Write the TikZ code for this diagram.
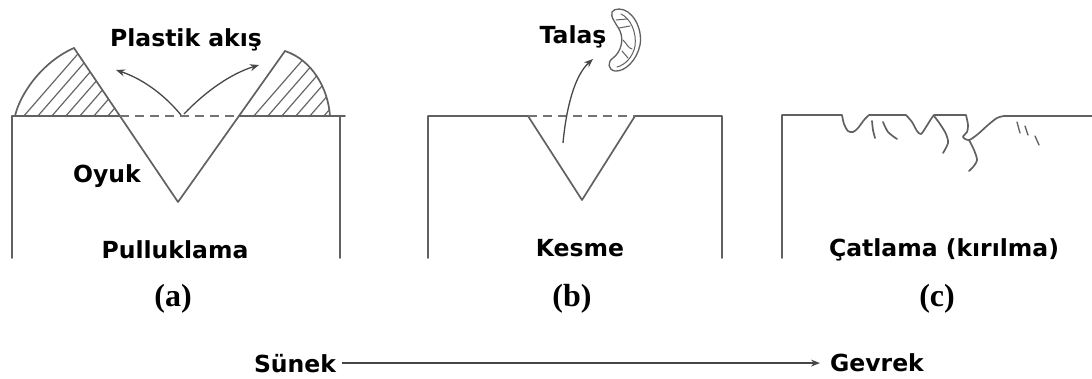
\documentclass[tikz,border=0pt]{standalone}
\usepackage{fontspec}
\setmainfont{DejaVu Sans}
\newfontfamily\tagfont{Liberation Serif}
\usetikzlibrary{arrows.meta}
\begin{document}
\begin{tikzpicture}[x=1pt,y=-1pt,
  ink/.style={draw=black!62,line width=1.7pt,line join=round,line cap=round},
  hatchline/.style={draw=black!60,line width=1.2pt},
  guide/.style={draw=black!55,line width=1.5pt,dash pattern=on 9pt off 6pt},
  flow/.style={draw=black!72,line width=1.3pt,-{Stealth[length=9pt,width=7pt]}},
  lbl/.style={font=\bfseries\fontsize{23.5}{28}\selectfont,inner sep=0pt,anchor=base},
  tag/.style={font=\tagfont\bfseries\fontsize{32}{36}\selectfont,inner sep=0pt,anchor=base}]
\useasboundingbox (0,0) rectangle (1092,378);

% ---------- (a) ploughing ----------
% hatched pile-ups on both sides of the groove
\begin{scope}
  \clip (15,116) .. controls (20,94) and (42,62) .. (74,48) -- (120,117) -- cycle;
  \foreach \s in {23,37,...,115} \draw[hatchline] (\s,117) -- ++(80,-92);
\end{scope}
\begin{scope}
  \clip (239,117) -- (285,51) .. controls (312,60) and (328,88) .. (330,117) -- cycle;
  \foreach \s in {253,267,...,330} \draw[hatchline] (\s,117) -- ++(80,-92);
\end{scope}
\draw[ink] (15,116) .. controls (20,94) and (42,62) .. (74,48);
\draw[ink] (285,51) .. controls (312,60) and (328,88) .. (330,116);
% groove walls, running up to the pile-up peaks
\draw[ink] (74,48) -- (178,202) -- (285,51);
% block outline
\draw[ink] (12,258) -- (12,116) -- (120,116);
\draw[ink] (239,116) -- (345,116);
\draw[ink] (340,116) -- (340,258);
\draw[guide] (120,116) -- (239,116);
% flow arrows
\coordinate (aL) at (181,115);
\coordinate (aR) at (184,114);
\coordinate (tipL) at (116,70);
\coordinate (tipR) at (259,65);
\draw[flow] (aL) .. controls (162,92) and (140,78) .. (tipL);
\draw[flow] (aR) .. controls (205,92) and (230,74) .. (tipR);
\node[lbl] (plastik) at (186,46) {Plastik akış};
\node[lbl] (oyuk) at (107,182) {Oyuk};
\node[lbl] (pull) at (175,258) {Pulluklama};
\node[tag] (taga) at (173,306) {(a)};

% ---------- (b) cutting ----------
\draw[ink] (428,258) -- (428,116) -- (528,116) -- (582,200) -- (635,116) -- (722,116) -- (722,258);
\draw[guide] (528,116) -- (635,116);
\coordinate (chipfoot) at (563,143);
\coordinate (chiptip) at (593,59);
\draw[flow] (chipfoot) .. controls (566,110) and (574,76) .. (chiptip);
% curled chip
\draw[ink,line width=1.3pt] (619,9) .. controls (632,9) and (643,28) .. (640,45)
  .. controls (637,60) and (625,72) .. (615,71)
  .. controls (608,70) and (607,62) .. (613,58)
  .. controls (621,52) and (624,40) .. (620,31)
  .. controls (616,23) and (610,17) .. (612,12)
  .. controls (613,10) and (616,9) .. (619,9) -- cycle;
\draw[ink,line width=1.0pt] (621,14) .. controls (630,18) and (637,32) .. (635,46)
  .. controls (633,57) and (625,65) .. (617,67);
\draw[ink,line width=1.0pt] (616,20) -- (627,19);
\draw[ink,line width=1.0pt] (619,28) -- (630,26);
\draw[ink,line width=1.0pt] (623,40) .. controls (627,44) and (628,48) .. (632,49);
\draw[ink,line width=1.0pt] (622,51) -- (628,58);
\node[lbl] (talas) at (573,43) {Talaş};
\node[lbl] (kesme) at (580,256) {Kesme};
\node[tag] (tagb) at (572,306) {(b)};

% ---------- (c) cracking ----------
\draw[ink] (782,258) -- (782,115) -- (842,115)
  plot[smooth,tension=0.5] coordinates {(842,115) (844,124) (848,131) (853,132) (858,128) (864,120) (869,115)}
  -- (906,115)
  plot[smooth,tension=0.5] coordinates {(906,115) (912,122) (917,131) (921,134) (926,127) (931,119) (934,115)}
  -- (966,115)
  plot[smooth,tension=0.5] coordinates {(966,115) (968,125) (967,132) (963,137) (969,140) (978,134) (988,125) (997,118) (1004,116)}
  -- (1092,116);
\draw[ink] plot[smooth,tension=0.5] coordinates {(872,121) (873,130) (875,138)};
\draw[ink] plot[smooth,tension=0.5] coordinates {(883,122) (888,132) (897,139)};
\draw[ink] plot[smooth,tension=0.5] coordinates {(934,116) (940,124) (946,134) (948,143) (943,153)};
\draw[ink] plot[smooth,tension=0.5] coordinates {(969,140) (974,150) (977,160) (973,167) (969,171)};
\draw[ink,line width=1.3pt] (1017,122) -- (1020,133);
\draw[ink,line width=1.3pt] (1025,126) -- (1028,135);
\draw[ink,line width=1.3pt] (1035,136) -- (1039,145);
\node[lbl] (catlama) at (944,256) {Çatlama (kırılma)};
\node[tag] (tagc) at (937,306) {(c)};

% ---------- ductile -> brittle ----------
\node[lbl,inner xsep=6pt] (sunek) at (295,372) {Sünek};
\node[lbl,inner xsep=10pt] (gevrek) at (877,371) {Gevrek};
\draw[flow,line width=1.2pt] (sunek.east) -- (sunek.east -| gevrek.west);
\end{tikzpicture}
\end{document}
